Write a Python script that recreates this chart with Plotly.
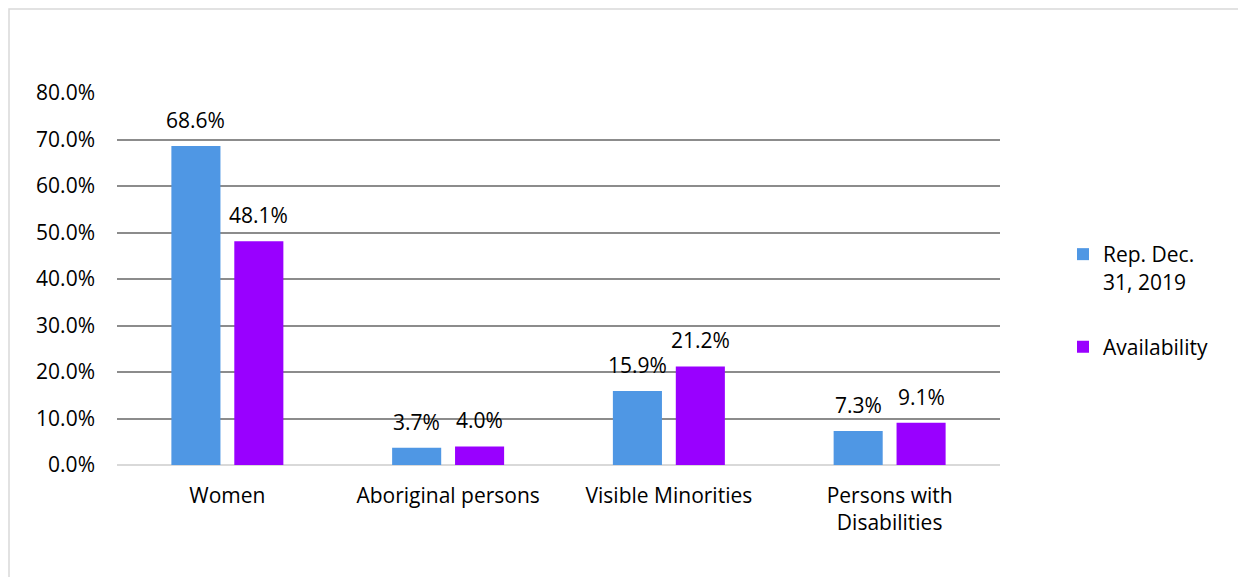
import plotly.graph_objects as go

categories = ["Women", "Aboriginal persons", "Visible Minorities", "Persons with<br>Disabilities"]
rep_values = [68.6, 3.7, 15.9, 7.3]
avail_values = [48.1, 4.0, 21.2, 9.1]
series_names = ["Rep. Dec.<br>31, 2019", "Availability"]
y_ticks = [0, 10, 20, 30, 40, 50, 60, 70, 80]
y_tick_labels = ["0.0%", "10.0%", "20.0%", "30.0%", "40.0%", "50.0%", "60.0%", "70.0%", "80.0%"]

FONT = "Open Sans"
FS = 21
BLUE = "#4F97E4"
PURPLE = "#9900FF"

fig = go.Figure()
fig.add_trace(go.Bar(x=categories, y=rep_values, name=series_names[0], legendgroup="a",
                     marker=dict(color=BLUE, line=dict(width=0))))
fig.add_trace(go.Bar(x=categories, y=avail_values, name=series_names[1], legendgroup="b",
                     marker=dict(color=PURPLE, line=dict(width=0))))

# data labels
for vals, shift in ((rep_values, -31.5), (avail_values, 31.5)):
    for c, v in zip(categories, vals):
        fig.add_annotation(x=c, y=v, xref="x", yref="y", text=f"{v:.1f}%",
                           showarrow=False, xshift=shift, yshift=10,
                           yanchor="bottom", font=dict(family=FONT, size=FS, color="#000"))

# page is offset by 8px body margin
OFF = 8
W, H = 1246 - OFF, 577 - OFF
L, T = 117 - OFF, 93 - OFF
R = W - (1000 - OFF)
B = H - (465 - OFF)
pw, ph = W - L - R, H - T - B
fig.add_shape(type="rect", xref="paper", yref="paper",
              x0=(1 - L) / pw, x1=(1270 - L) / pw,
              y0=(H - B - 600) / ph, y1=(H - B - 1) / ph,
              line=dict(color="#d9d9d9", width=1.5), fillcolor="rgba(0,0,0,0)", layer="below")

fig.update_layout(
    width=W, height=H,
    margin=dict(l=L, r=R, t=T, b=B),
    paper_bgcolor="white", plot_bgcolor="white",
    barmode="group", bargap=0.43, bargroupgap=0.22,
    font=dict(family=FONT, size=FS, color="#000"),
    legend=dict(x=(1055 - L) / pw, xanchor="left", y=(H - B - 226) / ph, yanchor="top",
                font=dict(family=FONT, size=FS, color="#000"), tracegroupgap=35,
                valign="top", bgcolor="rgba(0,0,0,0)"),
    xaxis=dict(showgrid=False, showline=False, ticks="", ticklabelstandoff=16,
               tickfont=dict(family=FONT, size=FS, color="#000")),
    yaxis=dict(range=[0, 80], tickvals=y_ticks, ticktext=y_tick_labels,
               showgrid=True, gridcolor="#8c8c8c", gridwidth=1.5,
               zeroline=True, zerolinecolor="#d9d9d9", zerolinewidth=2,
               showline=False, ticks="", ticklabelstandoff=21,
               tickfont=dict(family=FONT, size=FS, color="#000")),
)

fig.write_html("out.html")
